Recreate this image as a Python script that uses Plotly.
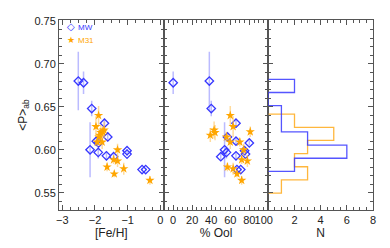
import plotly.graph_objects as go

# ---------------- data ----------------
mw_feh   = [-2.51, -2.35, -2.10, -1.71, -1.61, -1.96, -1.89, -2.15, -1.90, -1.65, -1.43, -1.02, -1.02, -0.56, -0.45]
mw_ool   = [38, 0, 40, 66, 57, 66, 80, 54, 56, 66, 50, 75, 76, 67, 71]
mw_p     = [0.680, 0.678, 0.648, 0.631, 0.615, 0.610, 0.608, 0.600, 0.597, 0.593, 0.592, 0.599, 0.595, 0.577, 0.577]
mw_err   = [0.034, 0.013, 0.009, 0.005, 0.005, 0.004, 0.003, 0.032, 0.007, 0.005, 0.004, 0.002, 0.002, 0.002, 0.002]

m31_feh  = [-1.89, -1.97, -1.86, -1.72, -1.82, -1.88, -1.76, -1.78, -1.93, -1.31, -1.43, -1.31, -1.63, -1.12, -1.41, -0.32]
m31_ool  = [60, 63, 39, 43, 44, 56, 81, 60, 70, 74, 72, 78, 57, 63, 67, 72]
m31_p    = [0.640, 0.627, 0.617, 0.623, 0.620, 0.615, 0.621, 0.609, 0.609, 0.600, 0.5885, 0.587, 0.580, 0.578, 0.572, 0.5645]
m31_err  = [0.011, 0.012, 0.008, 0.010, 0.009, 0.006, 0.006, 0.008, 0.005, 0.007, 0.005, 0.007, 0.005, 0.007, 0.004, 0.005]

mw_edges   = [0.5749, 0.5902, 0.6055, 0.6208, 0.6361, 0.6514, 0.6667, 0.6820]
mw_counts  = [2, 6, 3, 1, 1, 0, 2]
m31_edges  = [0.5497, 0.5650, 0.5803, 0.5956, 0.6109, 0.6262, 0.6415]
m31_counts = [1, 3, 2, 3, 5, 2]

feh_ticks = [-3, -2, -1, 0]
ool_ticks = [0, 20, 40, 60, 80, 100]
ool_text  = ["0", "20", "40", "60", "80", "100\u00a0\u00a0\u00a0"]
n_ticks   = [2, 4, 6, 8]

BLUE = "rgb(55,55,255)"
BLUE_ERR = "rgba(120,120,255,0.5)"
ORANGE = "rgb(255,166,0)"
ORANGE_ERR = "rgba(255,195,90,0.6)"
AXC = "#555555"
FONT = "Liberation Sans, Arial, sans-serif"


def step_path(edges, counts):
    xs, ys = [0], [edges[0]]
    for i, c in enumerate(counts):
        xs += [c, c]
        ys += [edges[i], edges[i + 1]]
    xs.append(0)
    ys.append(edges[-1])
    return xs, ys


fig = go.Figure()

for xa, ya, xmw, xm31 in [("x", "y", mw_feh, m31_feh), ("x2", "y2", mw_ool, m31_ool)]:
    fig.add_trace(go.Scatter(
        x=xmw, y=mw_p, xaxis=xa, yaxis=ya, mode="markers", showlegend=False,
        marker=dict(symbol="diamond-open", size=6.5, color=BLUE, line=dict(width=1.3, color=BLUE)),
        error_y=dict(type="data", array=mw_err, color=BLUE_ERR, thickness=1.5, width=0),
    ))
    fig.add_trace(go.Scatter(
        x=xm31, y=m31_p, xaxis=xa, yaxis=ya, mode="markers", showlegend=False,
        marker=dict(symbol="star", size=7, color=ORANGE, line=dict(width=0)),
        error_y=dict(type="data", array=m31_err, color=ORANGE_ERR, thickness=1.5, width=0),
    ))

hx, hy = step_path(m31_edges, m31_counts)
fig.add_trace(go.Scatter(x=hx, y=hy, xaxis="x3", yaxis="y3", mode="lines", showlegend=False,
                         line=dict(color="rgba(255,175,40,0.9)", width=1.3)))
hx, hy = step_path(mw_edges, mw_counts)
fig.add_trace(go.Scatter(x=hx, y=hy, xaxis="x3", yaxis="y3", mode="lines", showlegend=False,
                         line=dict(color="rgba(55,55,255,0.85)", width=1.3)))

tickfont = dict(family=FONT, size=11, color="#222")
common = dict(showline=True, linecolor=AXC, linewidth=1, mirror="ticks", ticks="inside",
              ticklen=5, tickcolor=AXC, tickwidth=1, showgrid=False, zeroline=False,
              tickfont=tickfont, title_font=dict(family=FONT, size=12, color="#222"),
              automargin=False, tickangle=0)

yrange = [0.53, 0.751]
yminor = dict(dtick=0.01, ticks="inside", ticklen=3, tickcolor=AXC, showgrid=False)

fig.update_layout(
    width=390, height=248,
    margin=dict(l=59, r=17, t=20, b=38),
    paper_bgcolor="white", plot_bgcolor="white",
    showlegend=False,
    xaxis=dict(domain=[0, 1/3], range=[-3.1, 0.1], tickvals=feh_ticks, anchor="y",
               minor=dict(dtick=0.25, ticks="inside", ticklen=3, tickcolor=AXC, showgrid=False),
               title=dict(text="[Fe/H]", standoff=0), **common),
    xaxis2=dict(domain=[1/3, 2/3], range=[-10, 100], tickvals=ool_ticks, ticktext=ool_text, anchor="y2",
                minor=dict(dtick=5, ticks="inside", ticklen=3, tickcolor=AXC, showgrid=False),
                title=dict(text="% Ool", standoff=0), **common),
    xaxis3=dict(domain=[2/3, 1], range=[0, 8], tickvals=n_ticks, anchor="y3",
                minor=dict(dtick=0.5, ticks="inside", ticklen=3, tickcolor=AXC, showgrid=False),
                title=dict(text="N", standoff=0), **common),
    yaxis=dict(range=yrange, dtick=0.05, tick0=0.55, tickformat=".2f", anchor="x",
               minor=yminor, title=dict(text="&lt;P&gt;<sub>ab</sub>", standoff=4), **common),
    yaxis2=dict(range=yrange, dtick=0.05, tick0=0.55, anchor="x2", showticklabels=False,
                minor=yminor, **common),
    yaxis3=dict(range=yrange, dtick=0.05, tick0=0.55, anchor="x3", showticklabels=False,
                minor=yminor, **common),
    annotations=[
        dict(xref="x domain", yref="y domain", x=0.115, y=0.965, text="<b>◇</b>", showarrow=False,
             font=dict(family="DejaVu Sans", size=10, color=BLUE), xanchor="center", yanchor="middle"),
        dict(xref="x domain", yref="y domain", x=0.165, y=0.962, text="MW", showarrow=False,
             font=dict(family=FONT, size=8, color=BLUE), xanchor="left", yanchor="middle"),
        dict(xref="x domain", yref="y domain", x=0.115, y=0.893, text="★", showarrow=False,
             font=dict(family="DejaVu Sans", size=9, color=ORANGE), xanchor="center", yanchor="middle"),
        dict(xref="x domain", yref="y domain", x=0.165, y=0.890, text="M31", showarrow=False,
             font=dict(family=FONT, size=8, color=ORANGE), xanchor="left", yanchor="middle"),
    ],
)

fig.write_html("out.html", config={"displayModeBar": False},
               post_script="document.body.style.margin='0';document.body.style.padding='0';")
